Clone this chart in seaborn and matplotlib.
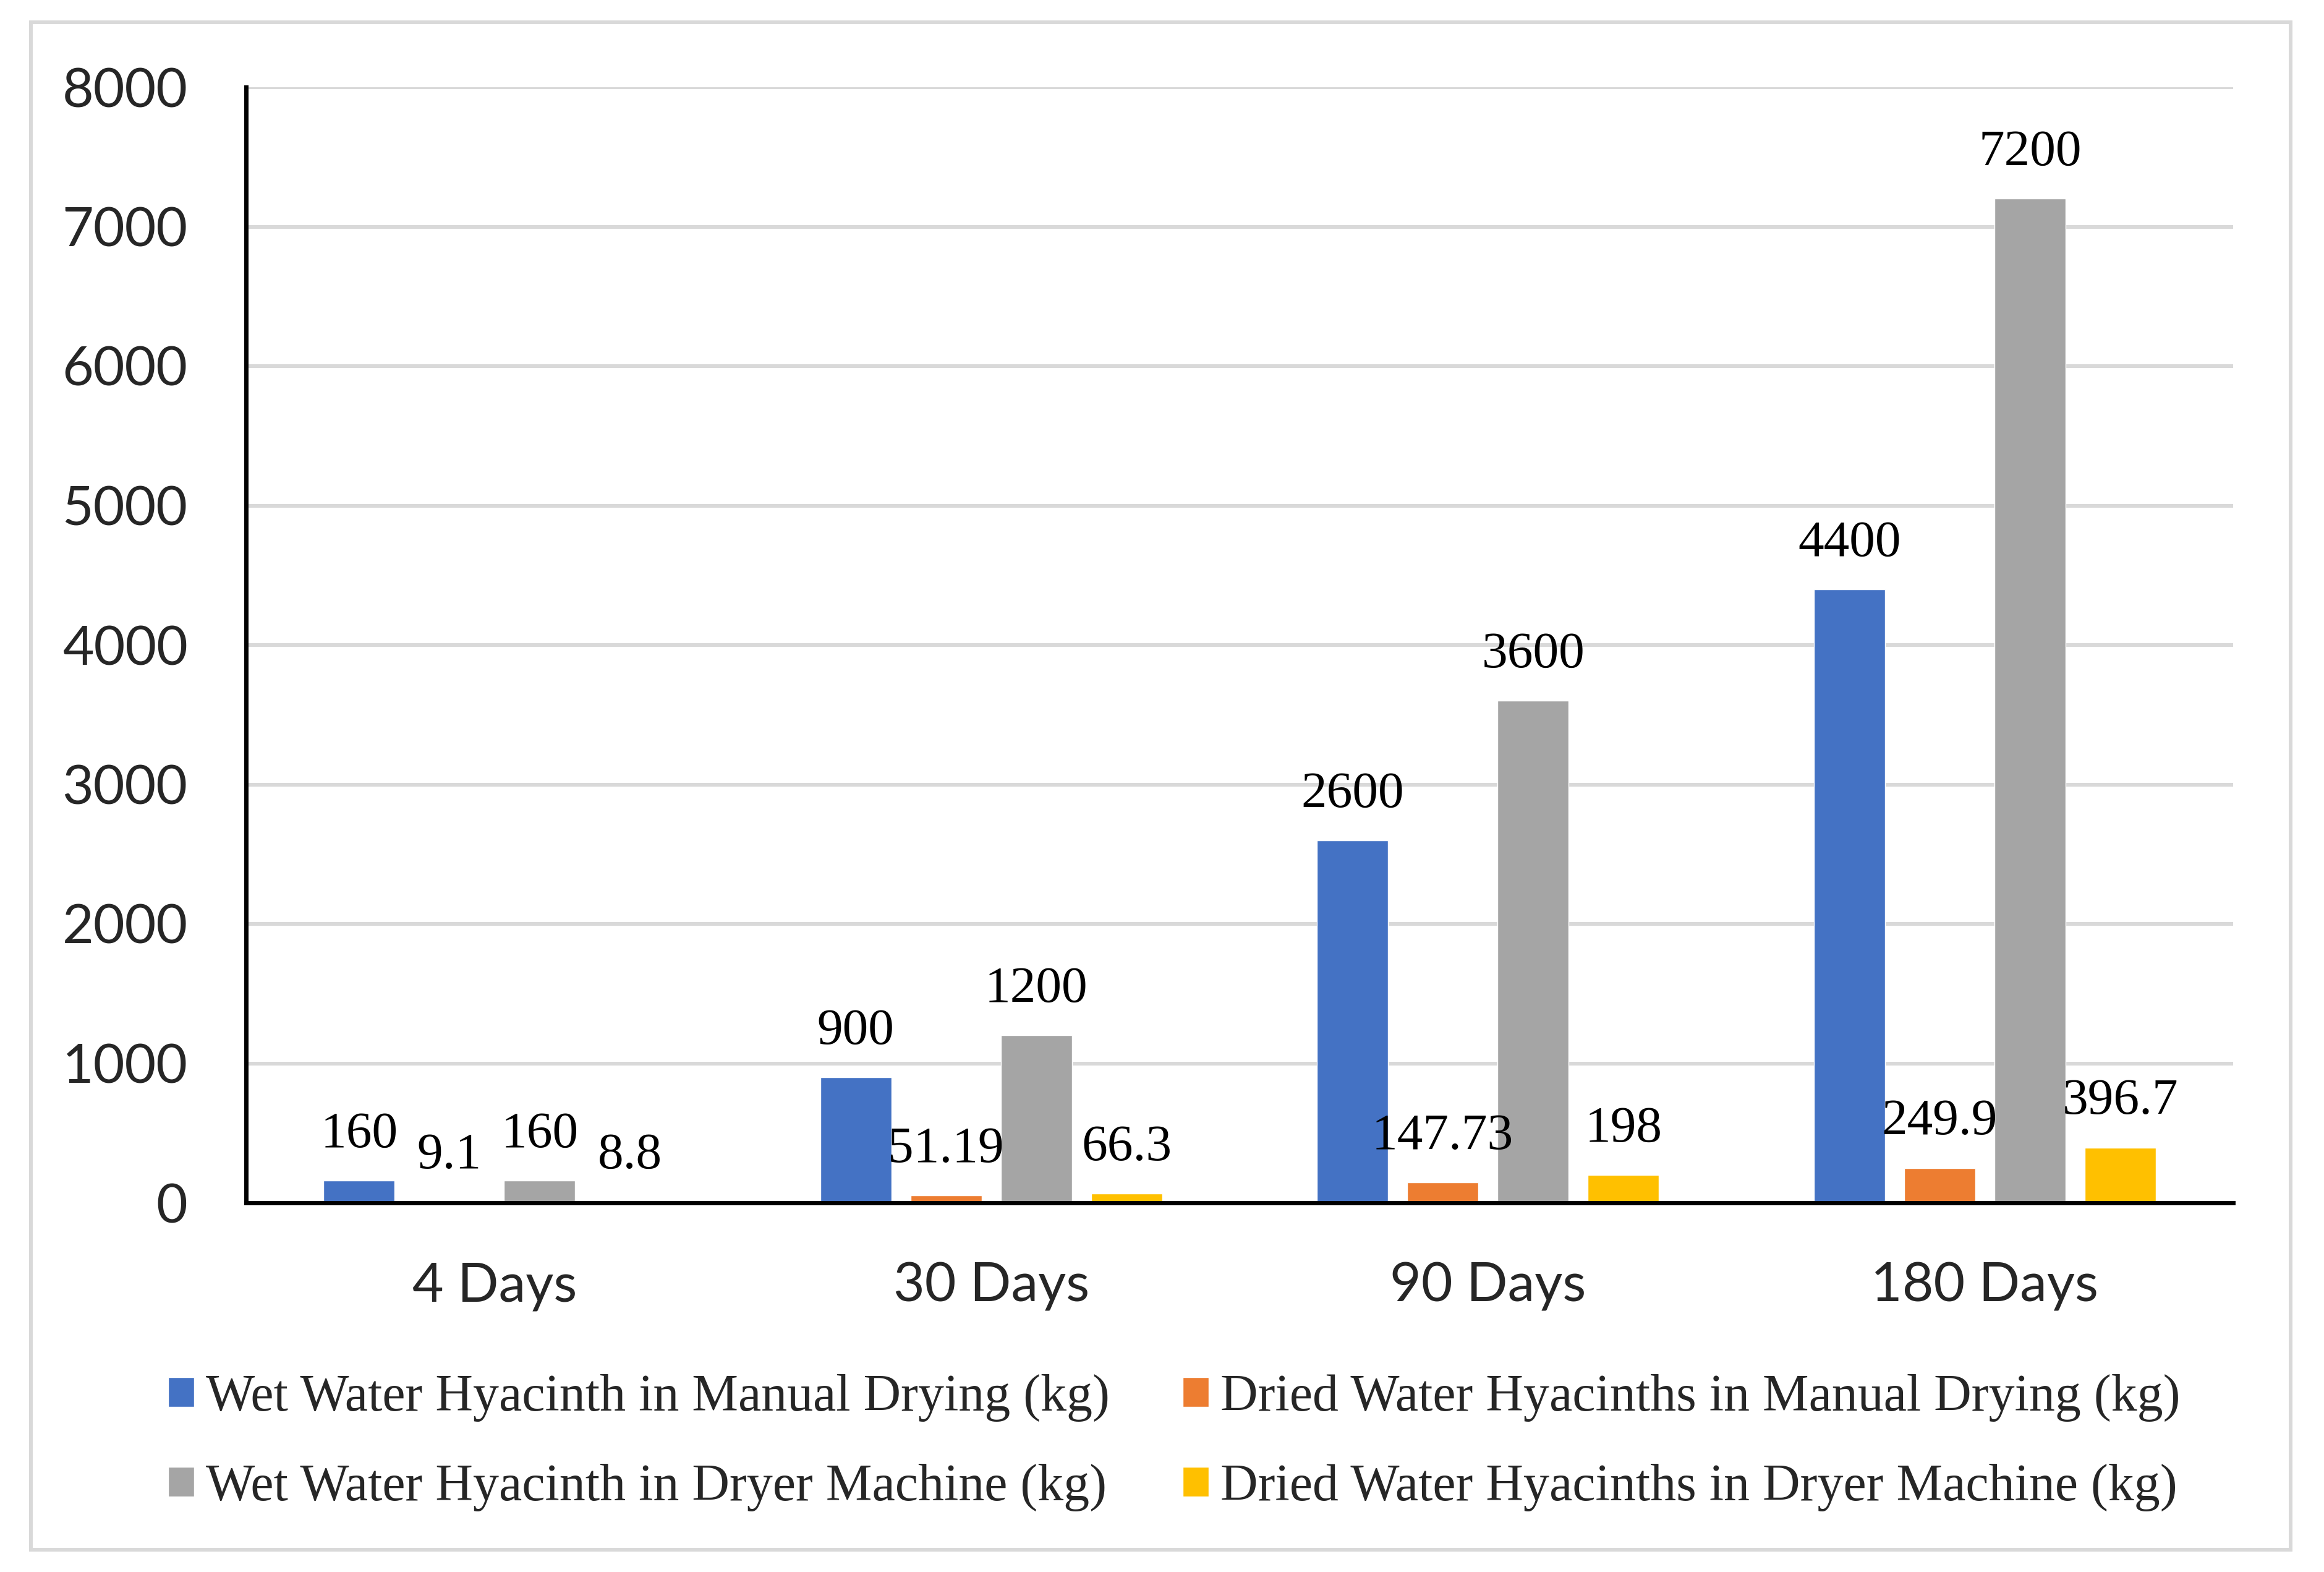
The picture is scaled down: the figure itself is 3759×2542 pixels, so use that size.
import matplotlib
matplotlib.use("Agg")
import matplotlib.pyplot as plt
from matplotlib.patches import Rectangle
import seaborn as sns
import pandas as pd

# ---- data ----
periods = ["4 Days", "30 Days", "90 Days", "180 Days"]
series_names = [
    "Wet Water Hyacinth in Manual Drying (kg)",
    "Dried Water Hyacinths in Manual Drying (kg)",
    "Wet Water Hyacinth in Dryer Machine (kg)",
    "Dried Water Hyacinths in Dryer Machine (kg)",
]
wet_manual = [160, 900, 2600, 4400]
dried_manual = [9.1, 51.19, 147.73, 249.9]
wet_dryer = [160, 1200, 3600, 7200]
dried_dryer = [8.8, 66.3, 198, 396.7]
y_ticks = [0, 1000, 2000, 3000, 4000, 5000, 6000, 7000, 8000]

colors = ["#4472C4", "#ED7D31", "#A5A5A5", "#FFC000"]

rows = []
for name, vals in zip(series_names, [wet_manual, dried_manual, wet_dryer, dried_dryer]):
    for p, v in zip(periods, vals):
        rows.append({"period": p, "value": v, "series": name})
df = pd.DataFrame(rows)

sns.set_style("white")
plt.rcParams["font.family"] = ["Lato", "DejaVu Sans"]

W, H = 3759, 2542
fig = plt.figure(figsize=(W / 100, H / 100), dpi=100)
ax = fig.add_axes([398 / W, (H - 1945) / H, 3214 / W, 1804 / H])

sns.barplot(data=df, x="period", y="value", hue="series", order=periods,
            hue_order=series_names, palette=colors, saturation=1,
            width=0.727, gap=0.21, errorbar=None, ax=ax, legend=True)

ax.set_xlim(-0.5, 3.5)
ax.set_ylim(0, 8000)
ax.set_yticks(y_ticks)
ax.set_yticklabels([str(t) for t in y_ticks])
ax.set_xlabel("")
ax.set_ylabel("")
ax.yaxis.grid(True, color="#D9D9D9", linewidth=4.3)
ax.set_axisbelow(True)
for s in ["top", "right"]:
    ax.spines[s].set_visible(False)
for s in ["left", "bottom"]:
    ax.spines[s].set_color("black")
    ax.spines[s].set_linewidth(5)
ax.tick_params(axis="y", length=0, pad=68, labelsize=63)
ax.tick_params(axis="x", length=0, pad=69, labelsize=63)

# data labels
for cont, vals in zip(ax.containers, [wet_manual, dried_manual, wet_dryer, dried_dryer]):
    for bar, v in zip(cont, vals):
        ax.annotate(f"{v:g}", (bar.get_x() + bar.get_width() / 2, bar.get_height()),
                    xytext=(0, 39), textcoords="offset points", ha="center",
                    va="baseline", fontsize=60, family=["Liberation Serif", "DejaVu Serif"],
                    color="black")

handles, labels = ax.get_legend_handles_labels()
ax.get_legend().remove()
order = [0, 2, 1, 3]
fig.legend([handles[i] for i in order], [labels[i] for i in order], ncol=2,
           loc="upper left", bbox_to_anchor=(272 / W, 1 - 2222 / H), frameon=False,
           prop={"family": ["Liberation Serif", "DejaVu Serif"], "size": 60.4},
           handlelength=0.5, handleheight=0.5, handletextpad=0.23,
           columnspacing=1.4, labelspacing=0.81, borderpad=0, borderaxespad=0)

# outer border
fig.patches.append(Rectangle((50 / W, 1 - 2506 / H), 3655 / W, 2470 / H,
                             transform=fig.transFigure, fill=False,
                             edgecolor="#D9D9D9", linewidth=4.3, zorder=0))

fig.savefig("out.png", dpi=100, facecolor="white")
